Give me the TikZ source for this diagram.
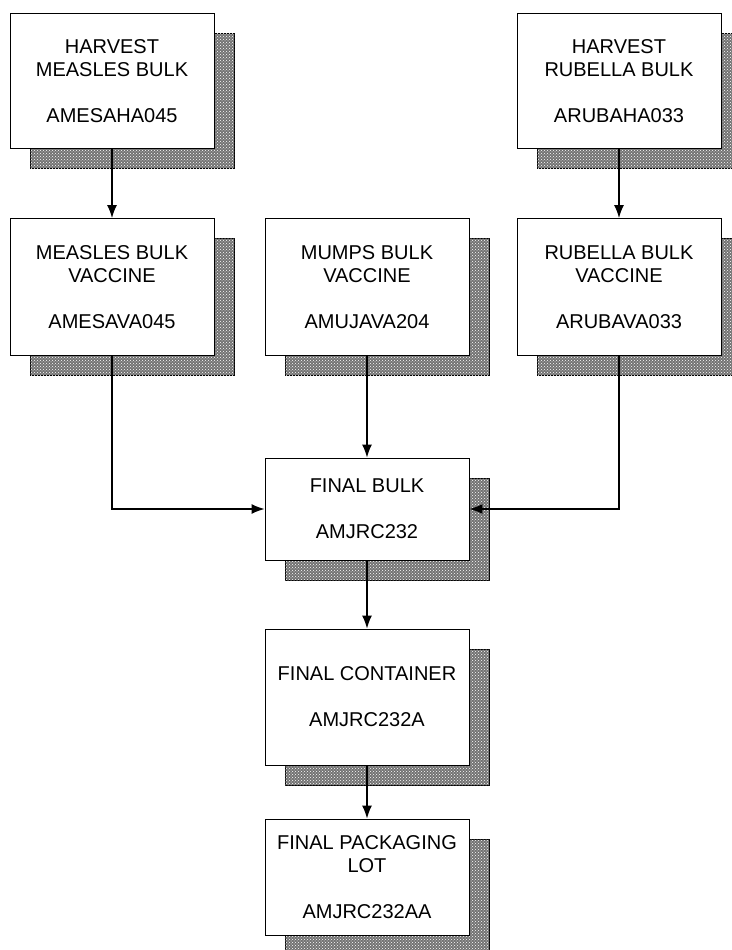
\documentclass[tikz,border=0pt]{standalone}
\usepackage{fontspec}
\setmainfont{Liberation Sans}
\usetikzlibrary{arrows.meta}
\usetikzlibrary{patterns}
\usetikzlibrary{math}

\tikzset{
box/.style={draw,line width=0.9pt,fill=white,align=center,minimum width=204pt,inner sep=0pt,
  font=\fontsize{20}{23}\selectfont,
  preaction={draw,line width=0.9pt,fill=black!55,transform canvas={shift={(20pt,-20pt)}}},
  preaction={pattern=crosshatch dots,pattern color=white,transform canvas={shift={(20pt,-20pt)}}}},
flow/.style={-{Latex[length=13pt,width=10pt]},line width=1.3pt}
}

\begin{document}
\begin{tikzpicture}[x=1pt,y=-1pt]
\tikzmath{
\colL=112;
\colM=367;
\colR=619;
\rowA=81;
\rowB=287;
}
\useasboundingbox (0,0) rectangle (731,950);

%harvests
\node[box,minimum height=135pt] (hmeas) at (\colL,\rowA) {HARVEST\\MEASLES BULK\\[23pt]AMESAHA045};
\node[box,minimum height=135pt] (hrub) at (\colR,\rowA) {HARVEST\\RUBELLA BULK\\[23pt]ARUBAHA033};

%bulk vaccines
\node[box,minimum height=137pt] (vmeas) at (\colL,\rowB) {MEASLES BULK\\VACCINE\\[23pt]AMESAVA045};
\node[box,minimum height=137pt] (vmump) at (\colM,\rowB) {MUMPS BULK\\VACCINE\\[23pt]AMUJAVA204};
\node[box,minimum height=137pt] (vrub) at (\colR,\rowB) {RUBELLA BULK\\VACCINE\\[23pt]ARUBAVA033};

%final steps
\node[box,minimum height=102pt] (fbulk) at (\colM,509) {FINAL BULK\\[23pt]AMJRC232};
\node[box,minimum height=136pt] (fcont) at (\colM,697) {FINAL CONTAINER\\[23pt]AMJRC232A};
\node[box,minimum height=116pt] (fpack) at (\colM,877) {FINAL PACKAGING\\LOT\\[23pt]AMJRC232AA};

\draw[flow] (hmeas) -- (vmeas);
\draw[flow] (hrub) -- (vrub);
\draw[flow] (vmump) -- (fbulk);
\draw[flow] (vmeas.south) |- (fbulk.west);
\draw[flow] (vrub.south) |- (fbulk.east);
\draw[flow] (fbulk) -- (fcont);
\draw[flow] (fcont) -- (fpack);
\end{tikzpicture}
\end{document}
